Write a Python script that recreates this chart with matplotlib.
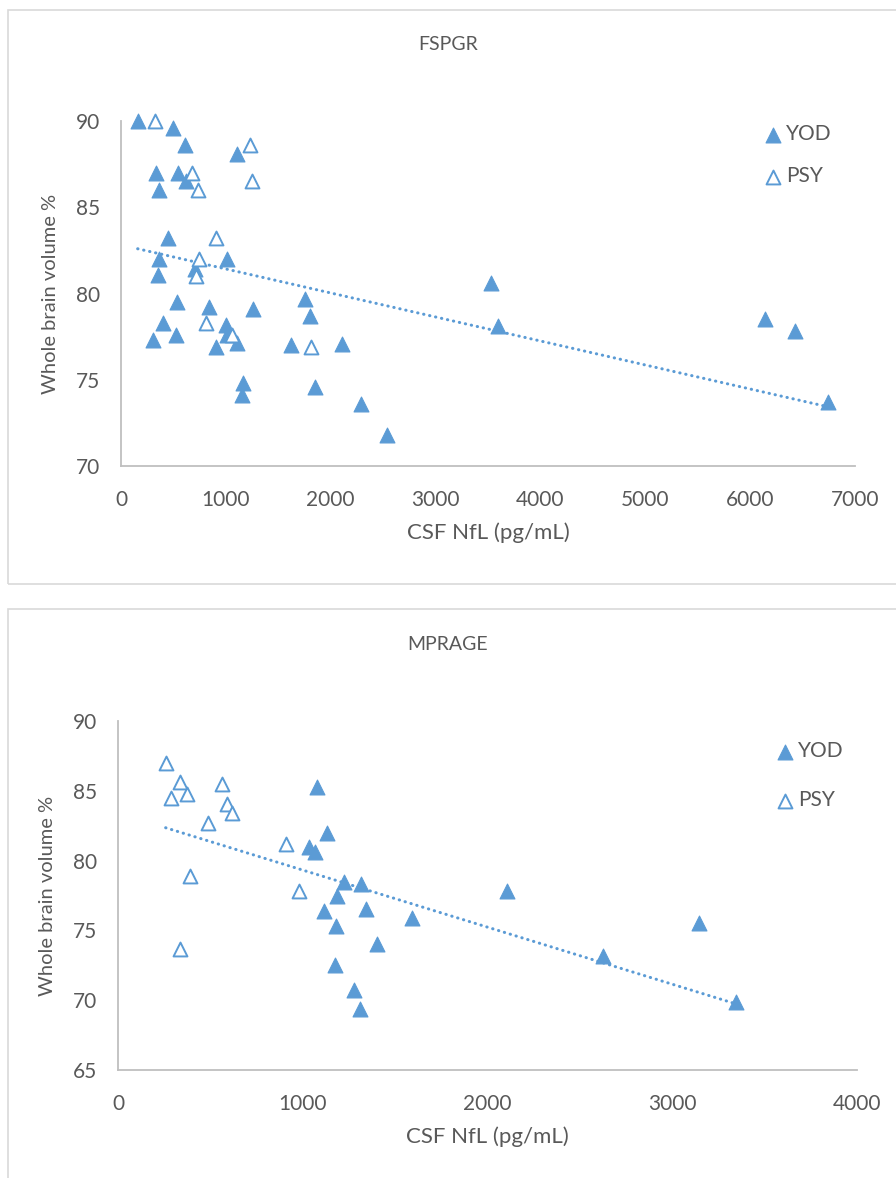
import numpy as np
import matplotlib.pyplot as plt
from matplotlib.patches import Rectangle

plt.rcParams['font.family'] = ['Lato', 'DejaVu Sans']

BLUE = '#5B9BD5'
GREY_TXT = '#595959'
GREY_AX = '#BFBFBF'

# FSPGR panel
fspgr_yod_x = [159, 493, 610, 1103, 337, 540, 620, 365, 451, 365, 1013, 705, 356, 1754,
               537, 842, 1255, 1799, 403, 998, 524, 1013, 302, 906, 1109, 1618, 2107,
               1166, 1153, 1849, 2285, 2533, 3527, 3597, 6139, 6428, 6743]
fspgr_yod_y = [90.0, 89.6, 88.6, 88.1, 87.0, 87.0, 86.5, 86.0, 83.2, 82.0, 82.0, 81.4, 81.1, 79.7,
               79.5, 79.2, 79.1, 78.7, 78.3, 78.2, 77.6, 77.6, 77.3, 76.9, 77.15, 77.0, 77.1,
               74.8, 74.1, 74.6, 73.6, 71.8, 80.6, 78.1, 78.5, 77.8, 73.7]
fspgr_psy_x = [324, 1227, 674, 1246, 731, 906, 744, 718, 810, 1058, 1811]
fspgr_psy_y = [90.0, 88.6, 87.0, 86.5, 86.0, 83.2, 82.0, 81.0, 78.3, 77.6, 76.9]

# MPRAGE panel
mprage_yod_x = [1077, 1131, 1034, 1066, 1223, 1315, 1184, 1115, 1342, 1591, 1180, 1400,
                1176, 1276, 1310, 2104, 3147, 2623, 3345]
mprage_yod_y = [85.3, 82.0, 81.0, 80.6, 78.5, 78.3, 77.5, 76.4, 76.5, 75.9, 75.3, 74.0,
                72.5, 70.7, 69.35, 77.8, 75.5, 73.2, 69.9]
mprage_psy_x = [258, 336, 287, 372, 565, 588, 617, 489, 909, 390, 978, 336]
mprage_psy_y = [87.0, 85.65, 84.5, 84.8, 85.5, 84.05, 83.4, 82.7, 81.2, 78.9, 77.8, 73.7]

W, H = 896, 1178
fig = plt.figure(figsize=(W / 100, H / 100), dpi=100)

# chart frames
for y0, y1 in [(10, 584), (609, 1190)]:
    fig.patches.append(Rectangle((8 / W, 1 - y1 / H), 1.0, (y1 - y0) / H,
                                 transform=fig.transFigure, fill=False,
                                 edgecolor='#D9D9D9', lw=1.2))


def panel(rect, title, title_y, yod_x, yod_y, psy_x, psy_y, xlim, xticks, ylim, yticks,
          leg_xy, leg_space):
    ax = fig.add_axes(rect)
    ax.scatter(yod_x, yod_y, marker='^', s=115, color=BLUE, edgecolors=BLUE,
               linewidths=0.8, label='YOD', zorder=3, clip_on=False)
    ax.scatter(psy_x, psy_y, marker='^', s=100, facecolors='white', edgecolors=BLUE,
               linewidths=1.4, label='PSY', zorder=3, clip_on=False)

    # linear trendline over all points
    xs = np.array(yod_x + psy_x, dtype=float)
    ys = np.array(yod_y + psy_y, dtype=float)
    k, b = np.polyfit(xs, ys, 1)
    tx = np.array([xs.min(), xs.max()])
    ax.plot(tx, k * tx + b, color=BLUE, lw=2.2, linestyle=(0, (0.1, 1.9)),
            dash_capstyle='round', zorder=2)

    ax.set_xlim(xlim)
    ax.set_ylim(ylim)
    ax.set_xticks(xticks)
    ax.set_yticks(yticks)
    for s in ['top', 'right']:
        ax.spines[s].set_visible(False)
    for s in ['left', 'bottom']:
        ax.spines[s].set_color(GREY_AX)
        ax.spines[s].set_linewidth(1.3)
    ax.tick_params(length=0, labelsize=15, labelcolor=GREY_TXT)
    ax.tick_params(axis='x', pad=17)
    ax.tick_params(axis='y', pad=15)
    ax.set_xlabel('CSF NfL (pg/mL)', fontsize=16, color=GREY_TXT, labelpad=9)
    ax.set_ylabel('Whole brain volume %', fontsize=14.5, color=GREY_TXT, labelpad=12)
    fig.text(0.5, 1 - title_y / H, title, ha='center', va='center', fontsize=14,
             color=GREY_TXT)
    ax.legend(loc='upper left', bbox_to_anchor=(leg_xy[0] / W, 1 - leg_xy[1] / H),
              bbox_transform=fig.transFigure, frameon=False, fontsize=15,
              handlelength=0.7, handletextpad=0.27, labelspacing=leg_space,
              labelcolor=GREY_TXT, borderpad=0, borderaxespad=0)
    return ax


panel([121 / W, 1 - 466 / H, (855 - 121) / W, (466 - 121) / H], 'FSPGR', 45,
      fspgr_yod_x, fspgr_yod_y, fspgr_psy_x, fspgr_psy_y,
      (0, 7000), range(0, 7001, 1000), (70, 90), range(70, 91, 5), (766, 124), 1.07)
panel([118 / W, 1 - 1070 / H, (857 - 118) / W, (1070 - 721) / H], 'MPRAGE', 645,
      mprage_yod_x, mprage_yod_y, mprage_psy_x, mprage_psy_y,
      (0, 4000), range(0, 4001, 1000), (65, 90), range(65, 91, 5), (778, 741), 1.4)

fig.savefig('out.png', dpi=100)
